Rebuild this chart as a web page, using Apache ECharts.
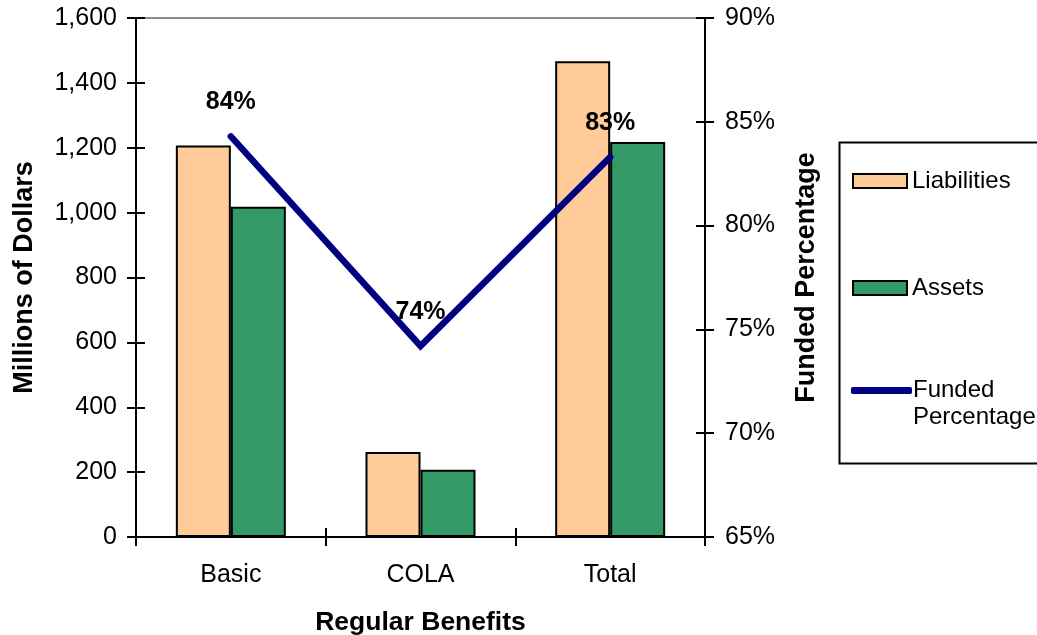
<!DOCTYPE html>
<html>
<head>
<meta charset="utf-8">
<script src="https://cdn.jsdelivr.net/npm/echarts@6/dist/echarts.min.js"></script>
<style>
  html, body { margin: 0; padding: 0; background: #fff; }
  #chart { width: 1037px; height: 635px; }
</style>
</head>
<body>
<div id="chart"></div>
<script>
// Regular benefits: liabilities vs assets (millions) and funded percentage
const categories = ['Basic', 'COLA', 'Total'];
const liabilities = [1207, 262, 1467];
const assets = [1018, 207, 1218];
const fundedPct = [84.3, 74.2, 83.3];

const FONT = '"Liberation Sans", Arial, sans-serif';
const chart = echarts.init(document.getElementById('chart'), null, { renderer: 'canvas' });

const plotBox = { left: 136, right: 332, top: 18, bottom: 98, outerBoundsMode: 'none', containLabel: false };
const tick = (inside) => ({ show: true, inside, length: 9, lineStyle: { color: '#000', width: 2 } });
const blackLine = { show: true, lineStyle: { color: '#000', width: 2 } };

// legend item shared style
const legendBase = {
  orient: 'vertical', itemGap: 0, itemWidth: 54, itemHeight: 14, icon: 'rect',
  itemStyle: { borderColor: '#000', borderWidth: 2 },
  textStyle: { fontFamily: FONT, fontSize: 24, color: '#000' }
};

chart.setOption({
  animation: false,
  textStyle: { fontFamily: FONT },
  // two grids over the same rectangle: the second one carries the inward half of the cross ticks
  grid: [
    Object.assign({ show: true, borderColor: '#8c8c8c', borderWidth: 2, backgroundColor: 'transparent' }, plotBox),
    Object.assign({ show: false }, plotBox)
  ],
  legend: [
    Object.assign({}, legendBase, { data: ['Liabilities'], left: 847, top: 164 }),
    Object.assign({}, legendBase, { data: ['Assets'], left: 847, top: 271 }),
    Object.assign({}, legendBase, {
      data: [{ name: 'Funded Percentage', icon: 'roundRect' }], left: 846, top: 345,
      itemWidth: 61, itemHeight: 7,
      itemStyle: { color: '#000080', borderWidth: 0 },
      // leading empty line keeps the first text line level with the line symbol
      formatter: () => '\nFunded\nPercentage',
      textStyle: { fontFamily: FONT, fontSize: 24, color: '#000', lineHeight: 27, padding: [0, 0, 0, -4] }
    })
  ],
  graphic: [{
    type: 'rect', left: 837, top: 140, silent: true,
    shape: { width: 220, height: 321 },
    style: { fill: 'none', stroke: '#000', lineWidth: 2 }
  }],
  xAxis: [{
    type: 'category', data: categories, gridIndex: 0,
    axisLine: blackLine, axisTick: tick(false),
    axisLabel: { color: '#000', fontSize: 25, margin: 26, fontFamily: FONT },
    name: 'Regular Benefits', nameLocation: 'middle', nameGap: 72,
    nameTextStyle: { color: '#000', fontSize: 26.5, fontWeight: 'bold', fontFamily: FONT }
  }, {
    type: 'category', data: categories, gridIndex: 1,
    axisLine: { show: false }, axisLabel: { show: false }, axisTick: tick(true)
  }],
  yAxis: [{
    type: 'value', gridIndex: 0, min: 0, max: 1600, interval: 200, position: 'left',
    axisLine: blackLine, axisTick: tick(false), splitLine: { show: false },
    axisLabel: { color: '#000', fontSize: 25, margin: 19, fontFamily: FONT,
      formatter: v => v.toLocaleString('en-US') },
    name: 'Millions of Dollars', nameLocation: 'middle', nameGap: 98, nameRotate: 90,
    nameTextStyle: { color: '#000', fontSize: 27, fontWeight: 'bold', fontFamily: FONT }
  }, {
    type: 'value', gridIndex: 0, min: 65, max: 90, interval: 5, position: 'right',
    axisLine: blackLine, axisTick: tick(false), splitLine: { show: false },
    axisLabel: { color: '#000', fontSize: 25, margin: 20, fontFamily: FONT, formatter: v => v + '%' },
    name: 'Funded Percentage', nameLocation: 'middle', nameGap: 88, nameRotate: 90,
    nameTextStyle: { color: '#000', fontSize: 27, fontWeight: 'bold', fontFamily: FONT }
  }, {
    type: 'value', gridIndex: 1, min: 0, max: 1600, interval: 200, position: 'left',
    axisLine: { show: false }, axisLabel: { show: false }, splitLine: { show: false },
    axisTick: tick(true)
  }, {
    type: 'value', gridIndex: 1, min: 65, max: 90, interval: 5, position: 'right',
    axisLine: { show: false }, axisLabel: { show: false }, splitLine: { show: false },
    axisTick: tick(true)
  }],
  series: [{
    name: 'Liabilities', type: 'bar', data: liabilities,
    barWidth: 55, barGap: '0%',
    itemStyle: { color: '#FFCC99', borderColor: '#000', borderWidth: 2 }
  }, {
    name: 'Assets', type: 'bar', data: assets,
    barWidth: 55, barGap: '0%',
    itemStyle: { color: '#339966', borderColor: '#000', borderWidth: 2 }
  }, {
    name: 'Funded Percentage', type: 'line', yAxisIndex: 1, data: fundedPct,
    symbol: 'circle', symbolSize: 1,
    itemStyle: { color: '#000080' },
    lineStyle: { color: '#000080', width: 6.5, cap: 'round', join: 'miter' },
    label: {
      show: true, position: 'top', distance: 21,
      color: '#000', fontSize: 25, fontWeight: 'bold', fontFamily: FONT,
      formatter: p => Math.round(p.value) + '%'
    },
    z: 5
  }]
});
</script>
</body>
</html>
